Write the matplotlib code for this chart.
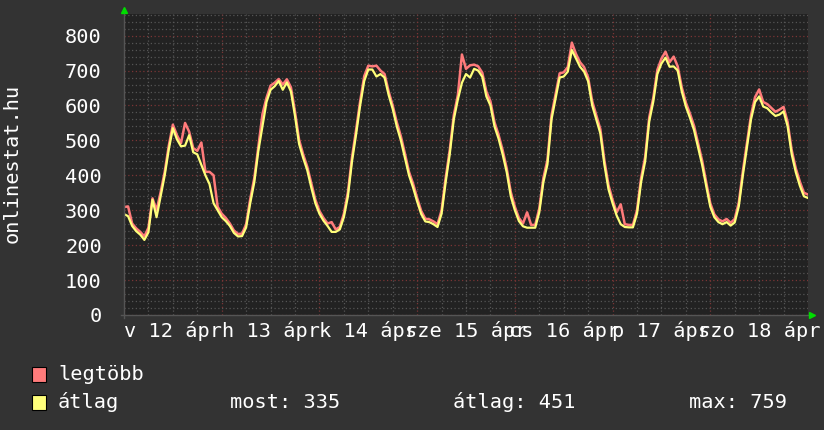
import matplotlib
matplotlib.use("Agg")
import matplotlib.pyplot as plt
from matplotlib.lines import Line2D
from matplotlib.patches import Rectangle
import numpy as np

# hourly samples, 12 Apr 00:00 -> 18 Apr 24:00
atlag = [289, 283, 255, 240, 230, 215, 237, 330, 280, 340, 400, 474,
         535, 503, 483, 485, 515, 466, 460, 430, 400, 375, 320, 300,
         280, 269, 255, 235, 225, 226, 251, 320, 380, 470, 540, 610,
         645, 655, 670, 645, 666, 640, 570, 490, 450, 415, 365, 320,
         290, 270, 255, 238, 238, 245, 280, 340, 440, 517, 600, 670,
         703, 703, 683, 690, 680, 630, 590, 540, 500, 450, 400, 365,
         325, 289, 268, 266, 260, 252, 290, 380, 460, 560, 617, 665,
         690, 680, 705, 700, 682, 626, 600, 540, 505, 460, 409, 340,
         300, 269, 254, 250, 250, 250, 294, 380, 431, 560, 620, 680,
         683, 697, 759, 735, 711, 697, 669, 600, 560, 520, 430, 360,
         320, 285, 260, 252, 251, 251, 290, 380, 440, 554, 611, 690,
         720, 737, 711, 712, 700, 640, 597, 565, 530, 480, 430, 369,
         310, 280, 266, 260, 266, 256, 265, 311, 400, 480, 560, 610,
         626, 597, 592, 580, 570, 574, 583, 540, 460, 409, 370, 340, 335]
legtobb = [309, 311, 262, 248, 238, 225, 250, 334, 300, 352, 410, 485,
           545, 515, 492, 550, 525, 478, 470, 494, 410, 410, 400, 310,
           290, 278, 262, 242, 232, 233, 260, 332, 392, 482, 575, 622,
           657, 665, 676, 660, 675, 652, 582, 502, 460, 425, 377, 330,
           298, 278, 262, 266, 245, 252, 290, 352, 452, 530, 612, 684,
           714, 712, 714, 700, 690, 640, 600, 552, 512, 462, 410, 376,
           335, 298, 276, 274, 268, 260, 300, 392, 472, 572, 630, 746,
           705, 715, 717, 712, 694, 640, 612, 552, 516, 472, 420, 352,
           310, 278, 262, 294, 258, 258, 305, 392, 444, 572, 632, 692,
           695, 710, 780, 748, 724, 710, 680, 612, 572, 532, 442, 372,
           330, 294, 317, 260, 258, 258, 300, 392, 452, 566, 622, 702,
           734, 754, 724, 740, 712, 652, 608, 577, 542, 492, 442, 380,
           320, 288, 274, 268, 275, 264, 275, 322, 412, 492, 572, 624,
           646, 610, 604, 593, 582, 588, 596, 552, 472, 420, 382, 350, 345]
day_labels = ["v 12 ápr", "h 13 ápr", "k 14 ápr", "sze 15 ápr",
              "cs 16 ápr", "p 17 ápr", "szo 18 ápr"]
stats = ["most: 335", "átlag: 451", "max: 759"]

W, H = 824, 430
bg = "#333333"
plot_bg = "#222222"
red = "#ff7b7b"
yellow = "#ffff7a"
mono = "DejaVu Sans Mono"
fs = 14.6

fig = plt.figure(figsize=(W / 100, H / 100), dpi=100, facecolor=bg)
ax = fig.add_axes([124 / W, (H - 315) / H, (808 - 124) / W, (315 - 14) / H])
ax.set_facecolor(plot_bg)
for s in ax.spines.values():
    s.set_visible(False)

hours = np.arange(len(atlag))
ax.set_xlim(0, 168)
ax.set_ylim(0, 862)

# grid
for y in range(0, 861, 20):
    major = y % 100 == 0
    ax.axhline(y, color="#7a3535" if major else "#555555", lw=0.9,
               ls=(0, (1, 2)), zorder=1)
for x in range(0, 169, 6):
    major = x % 24 == 0
    ax.axvline(x, color="#7a3535" if major else "#555555", lw=0.9,
               ls=(0, (1, 2)), zorder=1)

ax.plot(hours, legtobb, color=red, lw=1.8, zorder=3)
ax.plot(hours, atlag, color=yellow, lw=1.6, zorder=4)

ax.set_yticks(range(0, 801, 100))
ax.set_yticklabels([str(v) for v in range(0, 801, 100)])
ax.set_xticks([12 + 24 * i for i in range(7)])
ax.set_xticklabels(day_labels)
ax.tick_params(length=0, colors="white", labelsize=fs)
ax.tick_params(axis="y", pad=16)
ax.tick_params(axis="x", pad=4)
for t in ax.get_xticklabels() + ax.get_yticklabels():
    t.set_family(mono)

# axis lines with green arrows
fig.add_artist(Line2D([124 / W, 124 / W], [(H - 318) / H, (H - 10) / H],
                      color="#555555", lw=1, transform=fig.transFigure))
fig.add_artist(Line2D([121 / W, 812 / W], [(H - 315) / H, (H - 315) / H],
                      color="#555555", lw=1, transform=fig.transFigure))
fig.add_artist(Line2D([124.5 / W], [(H - 10) / H], marker="^", ms=5,
                      color="#00dd00", transform=fig.transFigure))
fig.add_artist(Line2D([812 / W], [(H - 315) / H], marker=">", ms=5,
                      color="#00dd00", transform=fig.transFigure))

fig.text(12 / W, (H - 163) / H, "onlinestat.hu", rotation=90, color="white",
         family=mono, fontsize=fs, ha="center", va="center")

# legend
for i, (name, col) in enumerate([("legtöbb", red), ("átlag", yellow)]):
    yc = 374 + 28 * i
    fig.add_artist(Rectangle((32 / W, (H - yc - 7.5) / H), 14 / W, 15 / H,
                             facecolor=col, edgecolor="black", lw=0.8,
                             transform=fig.transFigure))
    fig.text(58 / W, (H - yc) / H, name, color="white", family=mono,
             fontsize=fs, ha="left", va="center")
for x, s in zip([230, 453, 689], stats):
    fig.text(x / W, (H - 402) / H, s, color="white", family=mono,
             fontsize=fs, ha="left", va="center")

fig.savefig("out.png", dpi=100, facecolor=bg)
